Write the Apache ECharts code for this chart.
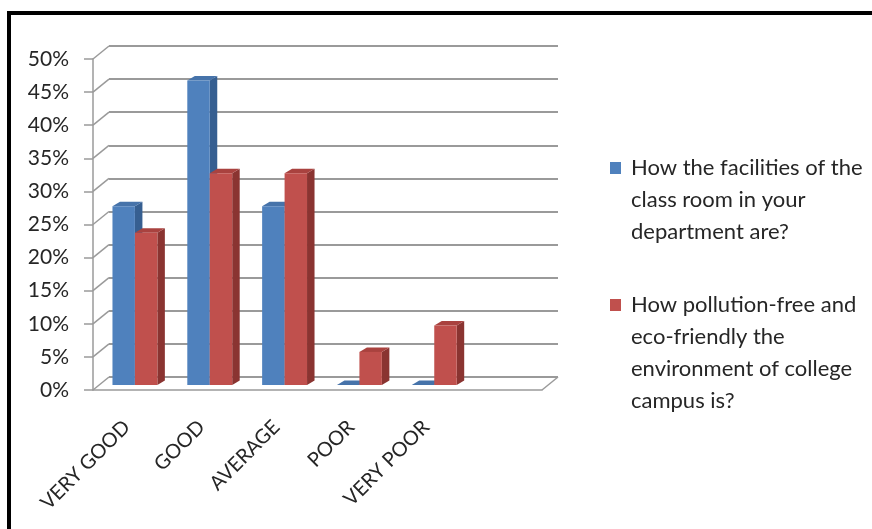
<!DOCTYPE html>
<html><head><meta charset="utf-8">
<script src="https://cdn.jsdelivr.net/npm/echarts@6/dist/echarts.min.js"></script>
<style>html,body{margin:0;padding:0;background:#fff}#c{width:872px;height:529px}</style>
</head><body><div id="c"></div>
<script>
const categories = ['VERY GOOD', 'GOOD', 'AVERAGE', 'POOR', 'VERY POOR', ''];
const facilities = [27, 46, 27, 0, 0];
const pollutionFree = [23, 32, 32, 5, 9];
const yTicks = [0, 5, 10, 15, 20, 25, 30, 35, 40, 45, 50];
const seriesNames = [
  'How the facilities of the class room in your department are?',
  'How pollution-free and eco-friendly the environment of college campus is?'
];
const legendLines = [
  ['How the facilities of the', 'class room in your', 'department are?'],
  ['How pollution-free and', 'eco-friendly the', 'environment of college', 'campus is?']
];

// 3D look (pixel offsets)
const DX = 16, DY = -13;      // back wall offset
const FX = 6, FY = -5;        // bar front face depth
const SX = 7.5, SY = -4.5;    // bar depth
const FONT = 'Lato';
const TXT = '#262626';
const GRID = '#9a9a9a';

const colorsBlue = { front: '#4F81BD', side: '#365F91', top: '#4673AA' };
const colorsRed = { front: '#C0504D', side: '#8A3431', top: '#A9423F' };

function barRenderer(s, c) {
  return function (params, api) {
    const cat = api.value(0), v = api.value(1);
    const top = api.coord([cat, v]);
    const base = api.coord([cat, 0]);
    const w = api.size([1, 0])[0];
    const bw = w * 0.3;
    const x0 = top[0] - bw + s * bw + FX - 1.5;
    const x1 = x0 + bw;
    const yT = top[1] + FY, yB = base[1] + FY;
    return {
      type: 'group', children: [
        { type: 'polygon', shape: { points: [[x1, yB], [x1 + SX, yB + SY], [x1 + SX, yT + SY], [x1, yT]] }, style: { fill: c.side } },
        { type: 'polygon', shape: { points: [[x0, yT], [x1, yT], [x1 + SX, yT + SY], [x0 + SX, yT + SY]] }, style: { fill: c.top } },
        { type: 'rect', shape: { x: x0, y: yT, width: bw, height: yB - yT }, style: { fill: c.front } }
      ]
    };
  };
}

function diagRenderer(side) {
  return function (params, api) {
    const p = api.coord([api.value(0), api.value(1)]);
    const w = api.size([1, 0])[0];
    const x = p[0] + side * w / 2;
    return { type: 'line', shape: { x1: x, y1: p[1], x2: x + DX, y2: p[1] + DY }, style: { stroke: GRID, lineWidth: 1.5 } };
  };
}

const chart = echarts.init(document.getElementById('c'));
chart.setOption({
  animation: false,
  backgroundColor: '#fff',
  graphic: [{ type: 'rect', shape: { x: 9, y: 13, width: 900, height: 600 }, style: { fill: null, stroke: '#000', lineWidth: 4 } }],
  grid: [
    { left: 93, right: 330, top: 59, bottom: 139 },
    { left: 93 + DX, right: 330 - DX, top: 59 + DY, bottom: 139 - DY }
  ],
  xAxis: [
    { type: 'category', gridIndex: 0, data: categories, boundaryGap: true,
      axisLine: { lineStyle: { color: GRID, width: 1.5 } },
      axisTick: { length: 9, lineStyle: { color: GRID, width: 1.5 } },
      axisLabel: { show: false } },
    { type: 'category', gridIndex: 1, data: categories, boundaryGap: true,
      axisLine: { show: false }, axisTick: { show: false },
      axisLabel: { rotate: 45, margin: 27, padding: [0, 28, 0, 0], fontFamily: FONT, fontSize: 20, color: TXT, interval: 0 } }
  ],
  yAxis: [
    { type: 'value', gridIndex: 0, min: 0, max: 50, interval: 5,
      axisLine: { show: true, lineStyle: { color: GRID, width: 1.5 } },
      axisTick: { show: true, length: 9, lineStyle: { color: GRID, width: 1.5 } },
      axisLabel: { margin: 24, padding: [4, 0, 0, 0], fontFamily: FONT, fontSize: 21, color: TXT, formatter: v => v + '%' },
      splitLine: { show: false } },
    { type: 'value', gridIndex: 1, min: 0, max: 50, interval: 5,
      axisLine: { show: false }, axisTick: { show: false }, axisLabel: { show: false },
      splitLine: { show: true, lineStyle: { color: GRID, width: 2 } } }
  ],
  legend: {
    orient: 'vertical', left: 610, top: 88, padding: 0,
    itemWidth: 11, itemHeight: 12, itemGap: -55,
    icon: 'rect',
    data: seriesNames,
    formatter: name => {
      const i = seriesNames.indexOf(name);
      const lines = legendLines[i];
      const blanks = new Array(lines.length - 1).fill(' ');
      return blanks.concat(lines).join('\n');
    },
    textStyle: { fontFamily: FONT, fontSize: 22, lineHeight: 32, color: TXT, padding: [0, 0, 0, 5] }
  },
  series: [
    { type: 'custom', name: '_wall', xAxisIndex: 0, yAxisIndex: 0, clip: false, silent: true,
      renderItem: diagRenderer(-1), data: yTicks.map(v => [0, v]), z: 1 },
    { type: 'custom', name: '_floor', xAxisIndex: 0, yAxisIndex: 0, clip: false, silent: true,
      renderItem: diagRenderer(1), data: [[categories.length - 1, 0]], z: 1 },
    { type: 'custom', name: seriesNames[0], xAxisIndex: 0, yAxisIndex: 0, clip: false,
      itemStyle: { color: colorsBlue.front }, renderItem: barRenderer(0, colorsBlue),
      data: facilities.map((v, i) => [i, v]), z: 3 },
    { type: 'custom', name: seriesNames[1], xAxisIndex: 0, yAxisIndex: 0, clip: false,
      itemStyle: { color: colorsRed.front }, renderItem: barRenderer(1, colorsRed),
      data: pollutionFree.map((v, i) => [i, v]), z: 4 }
  ]
});
</script>
</body></html>
